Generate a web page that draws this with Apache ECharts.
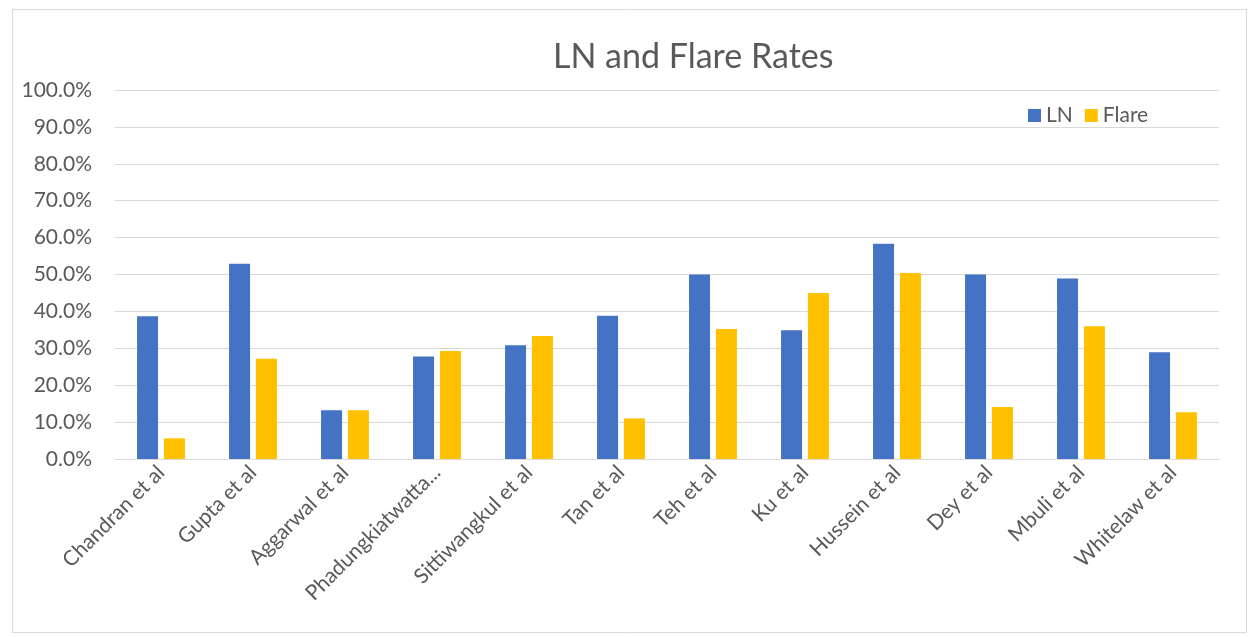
<!DOCTYPE html>
<html><head><meta charset="utf-8">
<script src="https://cdn.jsdelivr.net/npm/echarts@6/dist/echarts.min.js"></script>
<style>html,body{margin:0;padding:0;background:#fff}#c{width:1254px;height:637px}</style>
</head><body><div id="c"></div>
<script>
const categories = ["Chandran et al","Gupta et al","Aggarwal et al","Phadungkiatwatta...","Sittiwangkul et al","Tan et al","Teh et al","Ku et al","Hussein et al","Dey et al","Mbuli et al","Whitelaw et al"];
const lnValues = [38.7, 52.9, 13.2, 27.8, 30.8, 38.8, 50.0, 34.9, 58.3, 50.0, 48.9, 28.9];
const flareValues = [5.6, 27.2, 13.2, 29.3, 33.3, 11.0, 35.2, 45.0, 50.4, 14.1, 36.0, 12.7];
const seriesNames = ["LN", "Flare"];
const titleText = "LN and Flare Rates";

const chart = echarts.init(document.getElementById('c'), null, {renderer:'canvas'});
const font = "Lato, 'Open Sans', sans-serif";
chart.setOption({
  animation:false,
  backgroundColor:'#fff',
  textStyle:{fontFamily:font},
  graphic:[{type:'rect',left:10,top:7,shape:{width:1234,height:623},style:{fill:'none',stroke:'#d9d9d9',lineWidth:1},silent:true}],
  title:{text:titleText,left:548,top:35,textStyle:{fontFamily:font,fontSize:34,fontWeight:'normal',color:'#595959'}},
  legend:{data:seriesNames,left:1023,top:100,itemWidth:13,itemHeight:13,itemGap:12,icon:'rect',textStyle:{fontFamily:font,fontSize:21,color:'#595959'}},
  grid:{left:115,right:35,top:90,bottom:178,containLabel:false},
  xAxis:{type:'category',data:categories,
    axisLine:{lineStyle:{color:'#d9d9d9'}},axisTick:{show:false},
    axisLabel:{rotate:45,interval:0,margin:10,fontFamily:font,fontSize:21,color:'#595959'}},
  yAxis:{type:'value',min:0,max:100,interval:10,
    axisLabel:{formatter:v=>v.toFixed(1)+'%',fontFamily:font,fontSize:21,color:'#595959',margin:23},
    axisLine:{show:false},axisTick:{show:false},
    splitLine:{lineStyle:{color:'#d9d9d9',width:1}}},
  series:[
    {name:seriesNames[0],type:'bar',data:lnValues,barWidth:21,barGap:'28%',itemStyle:{color:'#4472c4'}},
    {name:seriesNames[1],type:'bar',data:flareValues,barWidth:21,itemStyle:{color:'#ffc000'}}
  ]
});
</script></body></html>
